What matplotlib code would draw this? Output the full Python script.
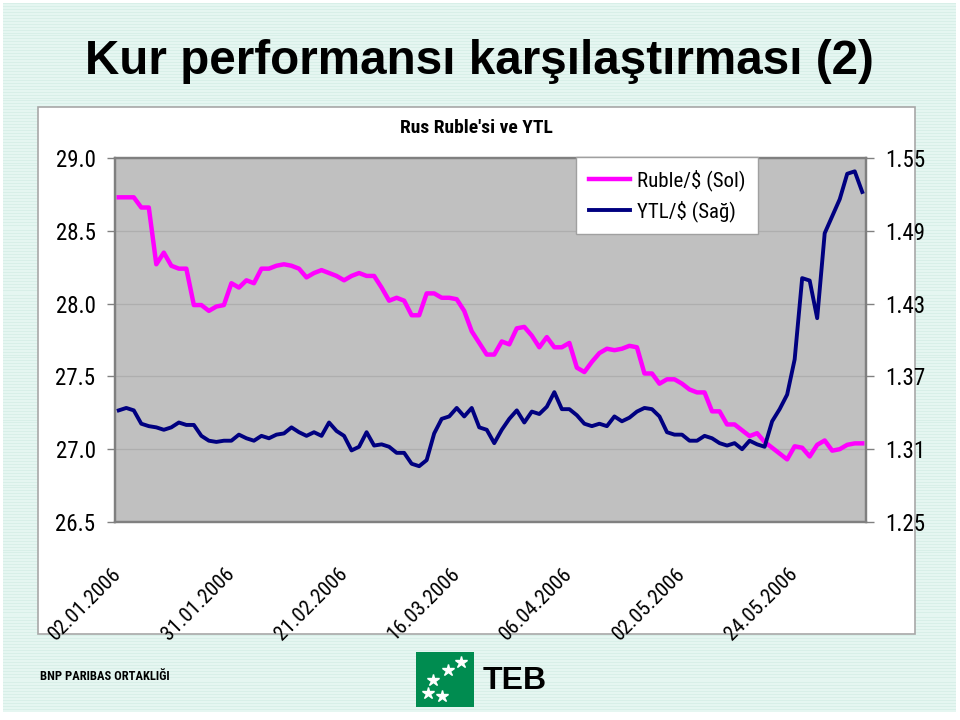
import matplotlib as mpl
mpl.use("agg")
import matplotlib.pyplot as plt
import numpy as np
from matplotlib import font_manager as fm
from matplotlib.patches import Rectangle

# Ruble/$ (left axis) and YTL/$ (right axis), daily values Jan-Jun 2006
ruble = [28.73, 28.73, 28.73, 28.66, 28.66, 28.27, 28.35, 28.26, 28.24, 28.24,
         27.99, 27.99, 27.95, 27.98, 27.99, 28.14, 28.11, 28.16, 28.14, 28.24,
         28.24, 28.26, 28.27, 28.26, 28.24, 28.18, 28.21, 28.23, 28.21, 28.19,
         28.16, 28.19, 28.21, 28.19, 28.19, 28.11, 28.02, 28.04, 28.02, 27.92,
         27.92, 28.07, 28.07, 28.04, 28.04, 28.03, 27.95, 27.81, 27.73, 27.65,
         27.65, 27.74, 27.72, 27.83, 27.84, 27.78, 27.70, 27.77, 27.70, 27.70,
         27.73, 27.56, 27.53, 27.60, 27.66, 27.69, 27.68, 27.69, 27.71, 27.70,
         27.52, 27.52, 27.45, 27.48, 27.48, 27.45, 27.41, 27.39, 27.39, 27.26,
         27.26, 27.17, 27.17, 27.13, 27.09, 27.11, 27.05, 27.01, 26.97, 26.93,
         27.02, 27.01, 26.95, 27.03, 27.06, 26.99, 27.00, 27.03, 27.04, 27.04]

ytl = [1.342, 1.344, 1.342, 1.331, 1.329, 1.328, 1.326, 1.328, 1.332, 1.330,
       1.330, 1.321, 1.317, 1.316, 1.317, 1.317, 1.322, 1.319, 1.317, 1.321,
       1.319, 1.322, 1.323, 1.328, 1.324, 1.321, 1.324, 1.321, 1.332, 1.325,
       1.321, 1.309, 1.312, 1.324, 1.313, 1.314, 1.312, 1.307, 1.307, 1.298,
       1.296, 1.301, 1.323, 1.335, 1.337, 1.344, 1.337, 1.344, 1.328, 1.326,
       1.315, 1.326, 1.335, 1.342, 1.332, 1.341, 1.339, 1.345, 1.357, 1.343,
       1.343, 1.338, 1.331, 1.329, 1.331, 1.329, 1.337, 1.333, 1.336, 1.341,
       1.344, 1.343, 1.337, 1.324, 1.322, 1.322, 1.317, 1.317, 1.321, 1.319,
       1.315, 1.313, 1.315, 1.310, 1.317, 1.314, 1.312, 1.333, 1.343, 1.355,
       1.384, 1.451, 1.449, 1.418, 1.488, 1.502, 1.516, 1.537, 1.539, 1.522]

tick_idx = [0, 15, 30, 45, 60, 75, 90]
tick_labels = ["02.01.2006", "31.01.2006", "21.02.2006", "16.03.2006",
               "06.04.2006", "02.05.2006", "24.05.2006"]

left_ticks = [26.5, 27.0, 27.5, 28.0, 28.5, 29.0]
right_ticks = [1.25, 1.31, 1.37, 1.43, 1.49, 1.55]


def narrow_font(bold=False):
    # best installed condensed sans, Arial Narrow look-alikes first
    prefs = ["liberationsansnarrow", "robotocondensed", "opensanscondensed",
             "dejavusanscondensed"]
    found = {}
    for f in fm.fontManager.ttflist:
        base = f.fname.lower().replace("-", "").replace("_", "").replace(" ", "")
        base = base.rsplit("/", 1)[-1]
        if "italic" in base or "oblique" in base:
            continue
        for rank, p in enumerate(prefs):
            if not base.startswith(p):
                continue
            rest = base[len(p):]
            is_bold = rest.startswith("bold")
            plain = rest.startswith(("regular", ".ttf", ".otf"))
            if (bold and is_bold) or (not bold and plain):
                found.setdefault(rank, f.fname)
    if found:
        return fm.FontProperties(fname=found[min(found)])
    return fm.FontProperties(family=["Liberation Sans", "DejaVu Sans"],
                             weight="bold" if bold else "normal")


REG = narrow_font(False)
BOLD = narrow_font(True)

plt.rcParams["font.family"] = ["Liberation Sans", "DejaVu Sans"]

W, H = 960, 720
fig = plt.figure(figsize=(W / 100, H / 100), dpi=100)
fig.patch.set_facecolor("white")


def fbox(x0, y0, x1, y1):
    # pixel box (top-left origin) -> figure fraction [l, b, w, h]
    return [x0 / W, 1 - y1 / H, (x1 - x0) / W, (y1 - y0) / H]


# striped mint background
bg = fig.add_axes(fbox(3, 3, 955, 712))
stripes = np.array([[0], [1], [1]] * 240)
bg.imshow(stripes, aspect="auto", interpolation="nearest",
          cmap=mpl.colors.ListedColormap(["#D8EFE8", "#E5F6F1"]))
bg.set_axis_off()

# white chart panel
l, b, w, h = fbox(38, 107, 915, 634)
fig.patches.append(Rectangle((l, b), w, h, transform=fig.transFigure,
                             facecolor="white", edgecolor="#A8A8A8", lw=1.2, zorder=1))

fig.text(85 / W, 1 - 61 / H, "Kur performansı karşılaştırması (2)",
         fontweight="bold", fontsize=34.3, va="center", ha="left")

ax1 = fig.add_axes(fbox(115, 158, 866, 522))
ax1.set_zorder(2)
ax1.set_facecolor("#C0C0C0")
x = np.arange(len(ruble))
ax1.plot(x, ruble, color="#FF00FF", lw=3.2, label="Ruble/$ (Sol)", zorder=3)
ax1.set_xlim(-0.5, len(ruble) - 0.5)
ax1.set_ylim(26.5, 29.0)
ax1.set_yticks(left_ticks)
ax1.set_yticklabels(["{:.1f}".format(v) for v in left_ticks], fontproperties=REG, size=16.5)
ax1.grid(axis="y", color="#AEAEAE", lw=0.9)
ax1.set_axisbelow(True)
ax1.set_xticks(tick_idx)
ax1.set_xticklabels(tick_labels, rotation=45, ha="right", va="center",
                    rotation_mode="anchor", fontproperties=REG, size=15)
ax1.tick_params(axis="x", length=0, pad=35)
ax1.tick_params(axis="y", length=6, width=1, color="#808080", pad=8)
for s in ax1.spines.values():
    s.set_color("#808080")
    s.set_linewidth(1.6)

ax2 = ax1.twinx()
ax2.plot(x, ytl, color="#000080", lw=2.8, label="YTL/$ (Sağ)", zorder=3)
ax2.set_ylim(1.25, 1.55)
ax2.set_yticks(right_ticks)
ax2.set_yticklabels(["{:.2f}".format(v) for v in right_ticks], fontproperties=REG, size=16.5)
ax2.tick_params(axis="y", length=6, width=1, color="#808080", pad=8)
for s in ax2.spines.values():
    s.set_color("#808080")
    s.set_linewidth(1.6)

leg_prop = REG.copy()
leg_prop.set_size(15)
h1, lb1 = ax1.get_legend_handles_labels()
h2, lb2 = ax2.get_legend_handles_labels()
leg = ax2.legend(h1 + h2, lb1 + lb2, loc="upper left", bbox_to_anchor=(0.614, 1.004),
                 borderaxespad=0, fancybox=False, framealpha=1, edgecolor="#A0A0A0",
                 prop=leg_prop, handlelength=2.0, handletextpad=0.3, labelspacing=0.45,
                 borderpad=0.6)
leg.get_frame().set_linewidth(1.0)

fig.text(476 / W, 1 - 128 / H, "Rus Ruble'si ve YTL", fontproperties=BOLD,
         fontsize=14, ha="center", va="center")

# footer
fig.text(40 / W, 1 - 677 / H, "BNP PARIBAS ORTAKLIĞI", fontproperties=BOLD,
         fontsize=9, ha="left", va="center")
logo = fig.add_axes(fbox(416, 652, 474, 707))
logo.set_facecolor("#008C50")
logo.set_xlim(0, 1)
logo.set_ylim(0, 1)
logo.plot([0.78, 0.55, 0.3, 0.2, 0.45], [0.82, 0.68, 0.5, 0.26, 0.2], "*",
          color="white", ms=9, mec="white")
logo.set_xticks([])
logo.set_yticks([])
for s in logo.spines.values():
    s.set_visible(False)
fig.text(483 / W, 1 - 681 / H, "TEB", fontweight="bold", fontsize=23,
         ha="left", va="center")

fig.savefig("out.png", dpi=100)
